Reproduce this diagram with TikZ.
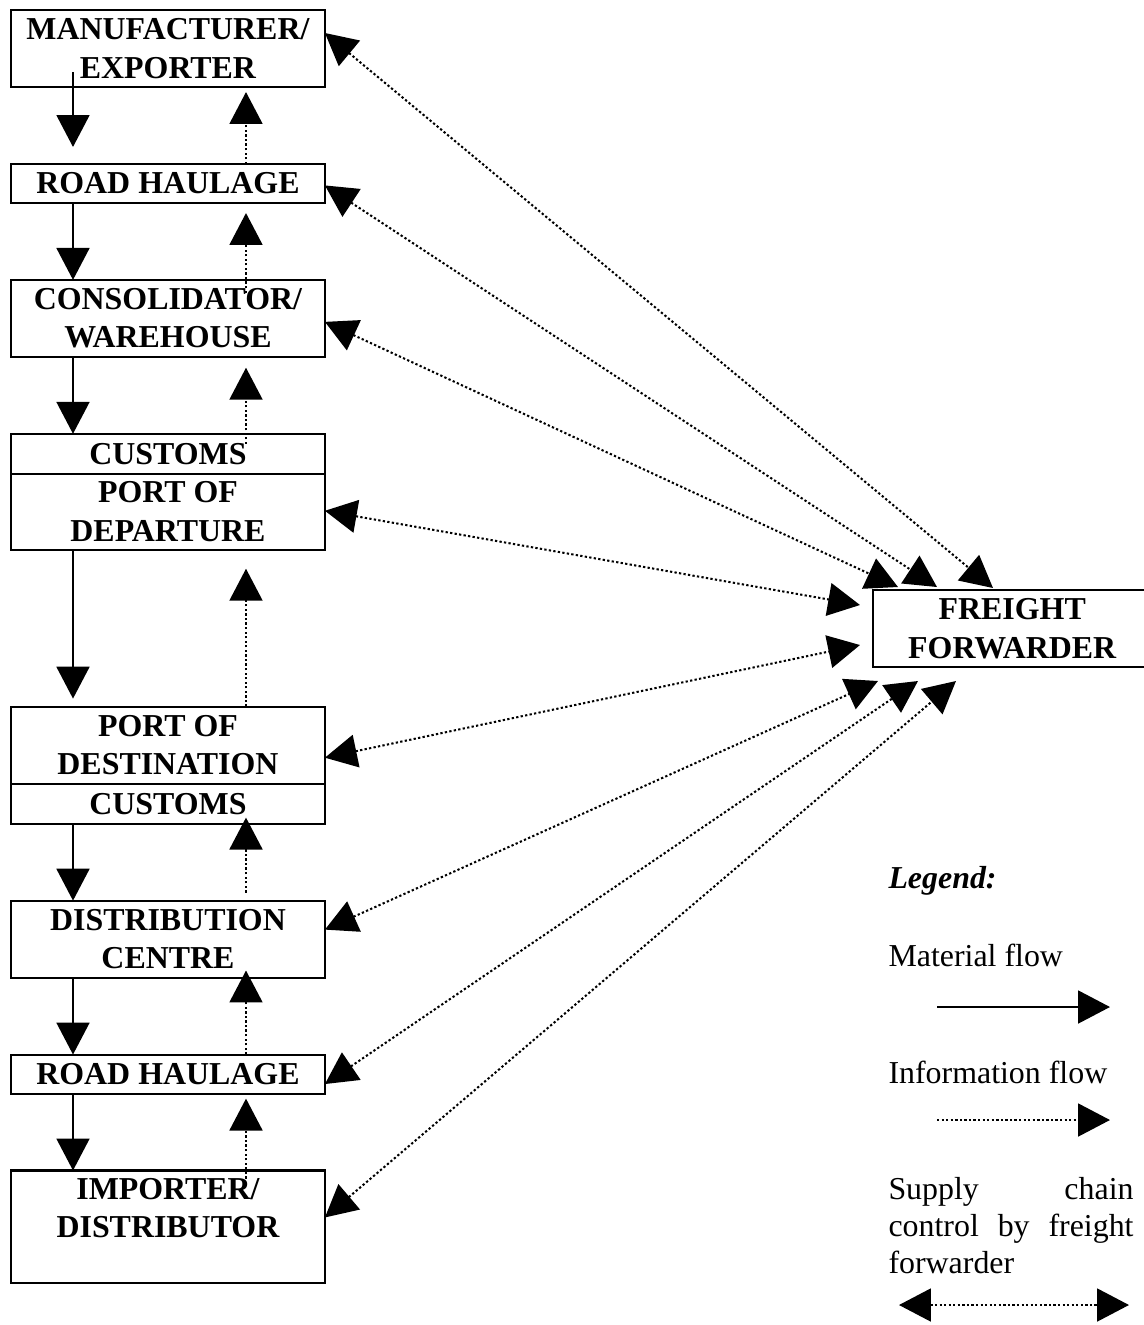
\documentclass[tikz,border=0pt]{standalone}
\usepackage{fontspec}
\setmainfont{Liberation Serif}
\usetikzlibrary{positioning,arrows.meta,calc}
\tikzset{
    base/.style={font=\fontsize{12.6}{15.2}\selectfont\bfseries, align=center},
    stage/.style={base, rectangle, draw, line width=0.8pt, inner sep=0pt, outer sep=0pt,
                  minimum width=124pt, minimum height=30.4pt},
    thin/.style={stage, minimum height=15.4pt},
    agent/.style={base, rectangle, draw, line width=0.8pt, inner sep=0pt, outer sep=0pt,
                  minimum width=110pt, minimum height=30.4pt},
    tip/.style={-{Triangle[length=12.6pt,width=13pt]}},
    material/.style={tip, line width=0.8pt},
    info/.style={tip, line width=0.8pt, dash pattern=on 0.9pt off 0.9pt},
    control/.style={{Triangle[length=12.6pt,width=13pt]}-{Triangle[length=12.6pt,width=13pt]},
                    line width=0.8pt, dash pattern=on 0.9pt off 0.9pt},
    legendtext/.style={font=\fontsize{12.6}{14.6}\selectfont, inner sep=0pt}
}
\begin{document}
\begin{tikzpicture}[x=0.395pt, y=-0.395pt, node distance=30.4pt]
  \useasboundingbox (0,0) rectangle (1144,1325);

  % Supply chain stages
  \node[stage, anchor=north west] (mfr) at (11,10) {MANUFACTURER/\\EXPORTER};
  \node[thin, below=of mfr] (rh1) {ROAD HAULAGE};
  \node[stage, below=of rh1] (cons) {CONSOLIDATOR/\\WAREHOUSE};
  \node[thin, below=of cons, minimum height=15.8pt] (cusd) {CUSTOMS};
  \node[stage, below=0pt of cusd, minimum height=30pt] (pod) {PORT OF\\DEPARTURE};
  \node[stage, below=62pt of pod] (pdest) {PORT OF\\DESTINATION};
  \node[thin, below=0pt of pdest, minimum height=15.8pt] (cusa) {CUSTOMS};
  \node[stage, below=of cusa] (dist) {DISTRIBUTION\\CENTRE};
  \node[thin, below=of dist] (rh2) {ROAD HAULAGE};
  \node[stage, below=of rh2, minimum height=44.6pt] (imp) {IMPORTER/\\DISTRIBUTOR\\\mbox{}};

  \node[agent, anchor=west] (ff) at (873,628.5) {FREIGHT\\FORWARDER};

  \coordinate (mx) at (73,0);
  \coordinate (ix) at (246,0);

  % Material flow
  \draw[material, shorten <=-5.9pt, shorten >=6.7pt] (mfr.south -| mx) -- (rh1.north -| mx);
  \draw[material] (rh1.south -| mx) -- (cons.north -| mx);
  \draw[material] (cons.south -| mx) -- (cusd.north -| mx);
  \draw[material, shorten >=3.2pt] (pod.south -| mx) -- (pdest.north -| mx);
  \draw[material] (cusa.south -| mx) -- (dist.north -| mx);
  \draw[material] (dist.south -| mx) -- (rh2.north -| mx);
  \draw[material] (rh2.south -| mx) -- (imp.north -| mx);

  % Information flow
  \draw[info, shorten >=2pt] (rh1.north -| ix) -- (mfr.south -| ix);
  \draw[info, shorten <=-5.1pt, shorten >=4pt] (cons.north -| ix) -- (rh1.south -| ix);
  \draw[info, shorten <=-4pt, shorten >=4.3pt] (cusd.north -| ix) -- (cons.south -| ix);
  \draw[info, shorten >=7.5pt] (pdest.north -| ix) -- (pod.south -| ix);
  \draw[info, shorten <=3.2pt, shorten >=-2.4pt] (dist.north -| ix) -- (cusa.south -| ix);
  \draw[info, shorten >=-2.8pt] (rh2.north -| ix) -- (dist.south -| ix);
  \draw[info, shorten <=-3.2pt, shorten >=2pt] (imp.north -| ix) -- (rh2.south -| ix);

  % Control by freight forwarder
  \coordinate (ffA) at (993,588);
  \coordinate (ffB) at (937,587);
  \coordinate (ffC) at (898,587);
  \coordinate (ffD) at (860,605);
  \coordinate (ffE) at (860,645);
  \coordinate (ffF) at (878,681);
  \coordinate (ffG) at (918,681);
  \coordinate (ffH) at (956,681);
  \draw[control] ($(mfr.east)+(0,-15.5)$) -- (ffA);
  \draw[control] ($(rh1.east)+(0,2)$) -- (ffB);
  \draw[control] ($(cons.east)+(0,3.5)$) -- (ffC);
  \draw[control] ($(pod.east)+(0,-1)$) -- (ffD);
  \draw[control] ($(pdest.east)+(0,12.5)$) -- (ffE);
  \draw[control] ($(dist.east)+(0,-9.5)$) -- (ffF);
  \draw[control] ($(rh2.east)+(0,10)$) -- (ffG);
  \draw[control] ($(imp.east)+(0,-9.5)$) -- (ffH);

  % Legend
  \node[legendtext, font=\fontsize{12.6}{14.6}\selectfont\bfseries\itshape, anchor=base west] (leg) at (888,888) {Legend:};
  \node[legendtext, anchor=base west] (matlbl) at (888,966) {Material flow};
  \coordinate (matA) at (937,1007);
  \coordinate (matB) at (1110,1007);
  \draw[material] (matA) -- (matB);
  \node[legendtext, anchor=base west] (inflbl) at (888,1083) {Information flow};
  \coordinate (infA) at (937,1120);
  \coordinate (infB) at (1110,1120);
  \draw[info] (infA) -- (infB);
  \node[legendtext, anchor=north west, text width=96.8pt, align=left] (ctllbl) at (888,1177)
    {Supply\hfill chain\\control\hfill by\hfill freight\\forwarder};
  \coordinate (ctlA) at (899,1305);
  \coordinate (ctlB) at (1129,1305);
  \draw[control] (ctlA) -- (ctlB);
\end{tikzpicture}
\end{document}
